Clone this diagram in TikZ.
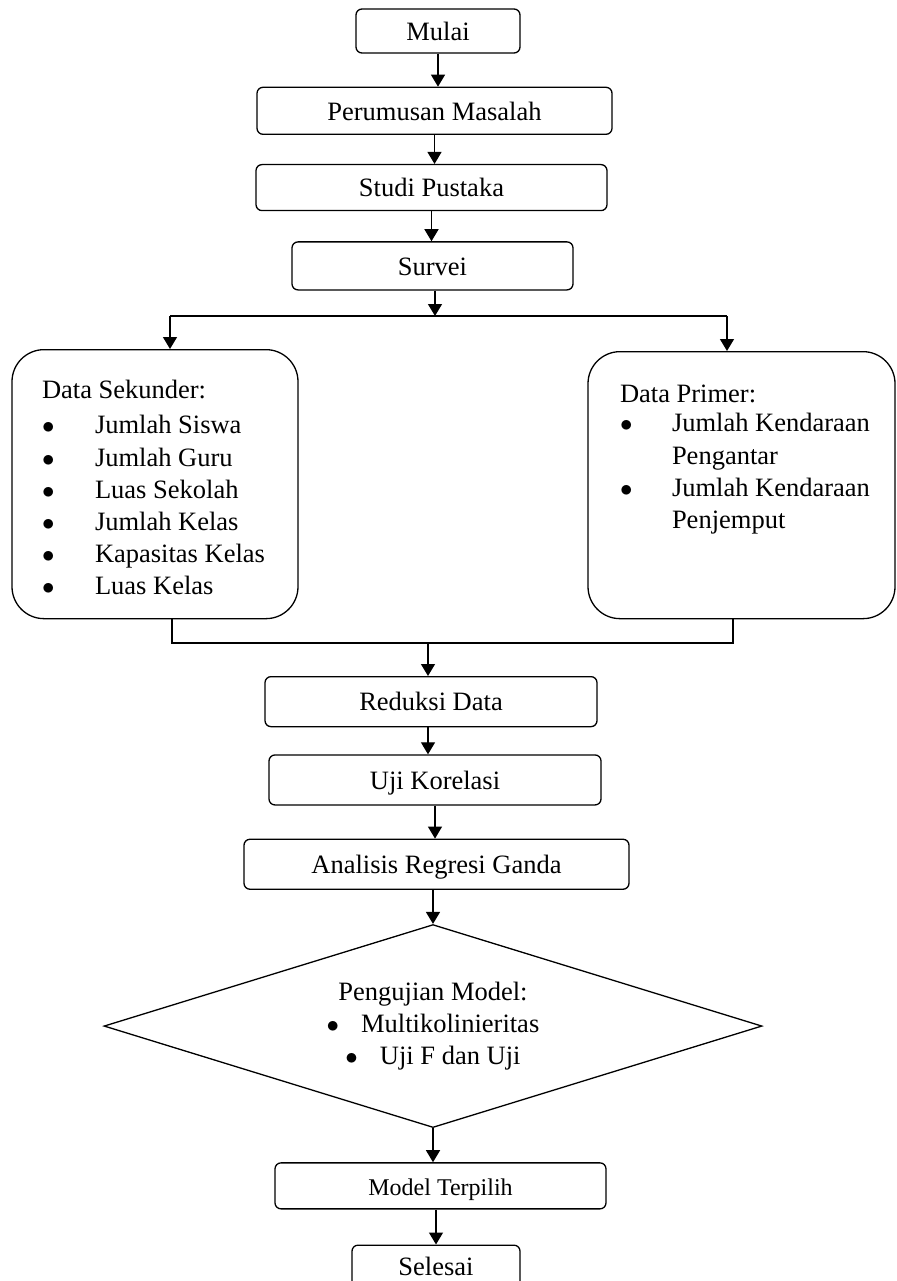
\documentclass[tikz,border=0pt]{standalone}
\usepackage{fontspec}
\setmainfont{Liberation Serif}
\usetikzlibrary{shapes.geometric,arrows.meta}
\usetikzlibrary{positioning}

\newcommand{\flowfont}{\fontsize{26.5pt}{32.2pt}\selectfont}

\tikzset{
  stepbox/.style={draw, rounded corners=6pt, inner sep=0pt, text height=18.6pt, text depth=0pt},
  databox/.style={draw, rounded corners=32pt, inner sep=0pt},
  listtext/.style={anchor=north west, inner sep=0pt},
  testbox/.style={draw, diamond, aspect=3.24, inner sep=0pt, align=center,
    minimum width=658pt, minimum height=203pt},
  flow/.style={-{Triangle[length=12pt,width=14pt]}}
}

\begin{document}
\begin{tikzpicture}[x=1pt, y=-1pt, line width=1.3pt, every node/.style={font=\flowfont}]
  \useasboundingbox (0,0) rectangle (896,1281);

  % Main column down to the survey
  \node[stepbox, minimum width=164pt, minimum height=44pt] (mulai) at (438,31) {Mulai};
  \node[stepbox, minimum width=355pt, minimum height=47pt] (perumusan) [below=33pt of mulai, xshift=-3.5pt] {Perumusan Masalah};
  \node[stepbox, minimum width=351pt, minimum height=46pt] (studi) [below=29pt of perumusan, xshift=-3pt] {Studi Pustaka};
  \node[stepbox, minimum width=281pt, minimum height=48pt] (survei) [below=30pt of studi, xshift=1pt] {Survei};

  \path[flow]
  (mulai.south) edge (mulai.south |- perumusan.north)
  (perumusan.south) edge (perumusan.south |- studi.north)
  (studi.south) edge (studi.south |- survei.north);

  % Split into the two kinds of data
  \coordinate (split) at (435,316);
  \coordinate (splitL) at (170,316);
  \coordinate (splitR) at (727,316);

  \node[databox, minimum width=286pt, minimum height=269pt] (sekunder) [below=33pt of splitL, xshift=-15pt] {};
  \node[databox, minimum width=307pt, minimum height=267pt] (primer) [below=35pt of splitR, xshift=14.5pt] {};

  \node[listtext] (sekunderlist) at ([xshift=30pt, yshift=-26.5pt]sekunder.north west) {%
    \begin{tabular}{@{}p{53pt}@{}l@{}}
      \multicolumn{2}{@{}l@{}}{Data Sekunder:}\\[3pt]
      $\bullet$ & Jumlah Siswa\\
      $\bullet$ & Jumlah Guru\\
      $\bullet$ & Luas Sekolah\\
      $\bullet$ & Jumlah Kelas\\
      $\bullet$ & Kapasitas Kelas\\
      $\bullet$ & Luas Kelas
    \end{tabular}};
  \node[listtext] (primerlist) at ([xshift=32pt, yshift=-28.5pt]primer.north west) {%
    \begin{tabular}{@{}p{52pt}@{}l@{}}
      \multicolumn{2}{@{}l@{}}{Data Primer:}\\[-3pt]
      $\bullet$ & Jumlah Kendaraan\\
                & Pengantar\\
      $\bullet$ & Jumlah Kendaraan\\
                & Penjemput
    \end{tabular}};

  \draw[flow] (survei.south -| split) -- (split);
  \draw (splitL) -- (splitR);
  \draw[flow] (splitL) -- (splitL |- sekunder.north);
  \draw[flow] (splitR) -- (splitR |- primer.north);

  % Join back into one line
  \coordinate (joinL) at (172,643);
  \coordinate (joinM) at (428,643);
  \coordinate (joinR) at (733,643);
  \draw (sekunder.south -| joinL) -- (joinL) -- (joinR) -- (primer.south -| joinR);

  % Analysis steps
  \node[stepbox, minimum width=332pt, minimum height=50pt] (reduksi) [below=33pt of joinM, xshift=3pt] {Reduksi Data};
  \node[stepbox, minimum width=332pt, minimum height=50pt] (korelasi) [below=27pt of reduksi, xshift=4pt] {Uji Korelasi};
  \node[stepbox, minimum width=385pt, minimum height=50pt] (regresi) [below=33pt of korelasi, xshift=1.5pt] {Analisis Regresi Ganda};
  \node[testbox] (pengujian) [below=34pt of regresi, xshift=-3.5pt]
    {Pengujian Model:\\ $\bullet$\hspace{22pt}Multikolinieritas\\ $\bullet$\hspace{22pt}Uji F dan Uji};
  \node[stepbox, minimum width=331pt, minimum height=46pt, text height=20pt,
    font=\fontsize{24pt}{29pt}\selectfont] (model) [below=34pt of pengujian, xshift=7.5pt] {Model Terpilih};
  \node[stepbox, minimum width=168pt, minimum height=43pt] (selesai) [below=35pt of model, xshift=-4.5pt] {Selesai};

  \path[flow]
  (joinM) edge (joinM |- reduksi.north)
  (reduksi.south -| joinM) edge (joinM |- korelasi.north)
  (korelasi.south) edge (korelasi.south |- regresi.north)
  (regresi.south -| pengujian.north) edge (pengujian.north)
  (pengujian.south) edge (pengujian.south |- model.north)
  (selesai.north |- model.south) edge (selesai.north);
\end{tikzpicture}
\end{document}
